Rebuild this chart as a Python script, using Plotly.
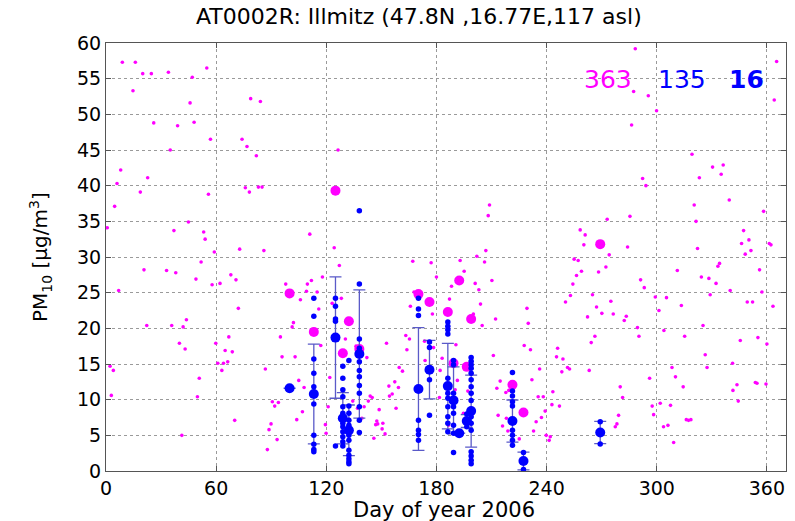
import plotly.graph_objects as go

# ---- daily PM10 (magenta small dots) ----
mag_days = [8.9,16,20,24.7,34,47,54.9,14.7,45.8,78.8,84.1,26,39,48,56.9,74.1,76.8,81.9,35,126.4,8,22.7,6,18.7,55.8,75.9,78.1,83,85,4.7,44.9,0.7,37,53.2,54,111,59,72.8,86,124.3,
            20.7,33,38,49,6.9,57.8,62.1,68,70.8,51.8,22.2,35.8,42,43.8,72.1,66.9,95,101.4,102.1,97.9,105.9,109.7,111.9,109.2,115,115.9,117.9,127.1,128.2,123.2,130.4,
            2.2,4,2.9,40,43.1,41.3,50.8,49.8,59.8,60.9,64,66.3,63.1,64.9,68.8,70.1,86.8,90.6,91.9,93.9,89.9,88.8,93.2,87.9,95.9,103,105,107.9,103.9,107,117,119.5,119.9,121.9,121,136.2,142.1,134.4,137,139.4,140.6,143.9,145,142.9,145.9,147.5,146.9,148.8,
            152.8,159.7,154.1,155.9,154.4,157.3,159.3,158,148,150.8,150.4,152,
            294.1,208.9,208.2,273,285.4,258.3,261,260.3,274.1,284.1,206.9,202,206.2,192.9,167.1,177.1,255,257.2,195.1,180,259,256.3,268.3,272.3,291.2,293.2,210.2,201.1,188.2,203.1,254.3,253,265,299.2,305.3,167.8,187.1,204,165.8,177.8,229.3,230,212.2,204.9,250.3,267.2,275,270.1,276.3,283.4,262.3,282.3,301.2,303.9,289.5,290.3,266.3,163.3,200.1,
            165.3,173.5,173.8,163.9,161.5,178.4,183.1,182,181.6,190.6,191.4,197.1,190.2,194.7,186.5,211,214.7,212.9,217.8,219.4,213.6,218.1,216,218.9,225.1,227.8,231.2,232,236.2,235.4,238.2,234.3,237.2,232.9,239.8,242,241.4,243.4,245.4,246,248.9,248.3,251.4,252.5,242.9,247,263.2,264.3,280.1,281.4,279.2,278.3,277.4,296.1,297.5,298.3,301.9,303.7,306.1,309.2,307.5,308.3,310.2,314.4,315.2,316.1,317.3,318.6,326.4,327.4,341.3,343.7,341.5,344.4,345.5,355.1,353.7,354.6,359.5,360,
            320.4,339.5,358.2,321.4,322.2,347.3,350.2,346.2,351.3,348.2,361.3,362.2,311.2,324.3,328.4,334.2,333.3,332.3,356,340,357.3,329.1,349.3,352.2,363.3,313.4,325.2,239.2,
            365.3,364,295.4,299.9,319.2,330.4,336.2,335.1,323.2,292.3,288.3,287.4,286.3]
mag_vals = [57.3,57.3,55.7,55.7,55.9,55.2,56.5,53.3,51.6,52.2,51.8,48.8,48.4,48.9,46.5,46.5,45.5,44.2,45.0,45.0,42.2,41.1,40.3,39.1,38.8,39.7,39.1,39.8,39.8,37.1,34.9,34.1,33.7,33.5,32.5,33.2,30.7,31.1,30.9,31.3,
            28.2,28.1,27.8,26.9,25.3,26.1,26.3,27.5,26.8,29.3,20.4,20.4,20.2,21.2,22.8,18.8,18.8,20.2,20.8,26.2,24.0,26.2,26.7,25.2,25.1,22.7,27.2,28.8,24.2,23.5,18.5,
            14.7,14.1,10.6,17.9,17.1,5.0,13.0,10.4,17.9,15.1,15.1,15.3,14.1,16.9,16.7,7.1,14.3,9.7,9.1,9.6,6.6,5.8,4.4,3.0,16.0,16.0,12.7,11.7,7.2,8.3,17.6,6.5,5.3,13.1,9.0,17.5,15.9,9.8,8.8,7.4,9.0,10.5,10.3,9.8,4.6,7.0,6.5,8.6,
            17.9,14.5,11.9,10.8,10.5,12.5,11.7,8.8,6.6,6.7,5.9,5.2,
            40.0,37.3,35.8,35.3,35.7,33.8,33.1,31.7,30.3,31.4,30.9,30.1,29.3,29.5,29.4,29.2,29.7,29.5,28.0,27.2,28.0,27.4,27.9,28.6,26.8,25.7,26.7,26.3,25.9,25.4,26.2,24.6,24.7,24.4,24.3,25.1,24.1,23.4,23.1,22.0,22.8,20.7,21.3,20.4,23.7,23.0,23.8,22.1,22.0,21.7,21.6,21.1,22.5,19.7,20.1,18.9,18.9,19.0,22.0,
            18.5,18.2,15.5,17.0,14.0,17.3,15.8,14.1,10.3,17.7,12.7,11.2,11.4,8.1,6.4,16.2,12.6,11.6,11.0,11.3,7.8,7.4,6.3,5.6,4.5,17.6,17.0,12.8,14.3,10.4,10.4,6.9,7.5,5.6,5.0,4.8,4.3,11.1,16.0,17.2,15.7,13.9,14.5,14.3,9.3,9.1,14.1,18.0,11.8,10.3,7.8,6.6,6.2,13.0,9.1,7.9,9.5,6.2,6.4,4.0,9.2,14.5,13.2,11.8,18.9,7.2,7.1,7.2,16.3,14.5,15.1,12.1,11.3,9.8,18.3,18.7,12.4,12.3,12.2,17.8,
            37.3,38.0,36.4,35.0,31.2,33.7,32.4,31.9,30.9,30.4,31.9,31.7,28.1,27.2,27.0,29.1,28.7,26.3,28.2,25.3,25.1,24.7,23.7,23.7,23.1,23.2,20.4,8.4,
            57.4,52.0,52.6,50.5,44.4,42.6,42.9,41.6,41.1,41.0,59.2,53.2,48.5]

# ---- individual samples (blue small dots), grouped by sampling period ----
blue_groups = {
    100.0: [11.6],
    113.2: [24.2, 21.7, 15.7, 13.7, 11.8, 9.4, 5.0, 3.75, 3.0, 2.7],
    125.0: [24.2, 23.1, 21.3, 21.0, 3.5],
    129.0: [14.7, 13.0, 11.4, 10.4, 9.0, 8.1, 6.7, 6.2, 5.5, 4.8, 4.1, 3.5],
    132.3: [15.5, 9.1, 8.1, 7.1, 6.4, 5.0, 4.3, 2.9, 2.2, 1.7, 1.3, 1.0],
    138.0: [36.5, 26.2, 18.5, 17.2, 15.3, 14.1, 13.2, 12.0, 10.9, 9.0, 7.1, 5.4],
    170.2: [24.2, 22.7, 21.8, 7.1, 5.7, 5.1, 4.3],
    176.2: [18.1, 17.3, 12.8, 7.8],
    186.2: [20.9, 20.3, 19.8, 19.2, 13.0, 10.9, 10.2, 9.0, 7.6, 6.7, 5.5],
    189.3: [15.5, 14.9, 10.9, 9.0, 8.1, 6.4, 5.3, 2.6],
    192.4: [5.3],
    196.5: [8.0, 7.0, 6.2],
    198.9: [15.9, 15.4, 14.9, 14.4, 13.7, 12.8, 11.8, 10.9, 9.9, 7.6, 6.7, 5.7, 2.7, 2.1, 1.5, 1.0],
    221.4: [13.8, 11.2, 10.5, 9.7, 9.1, 5.7, 5.0, 4.3, 3.6],
    227.4: [2.6, 0.2],
    269.2: [6.9, 3.8],
}

# ---- period means (big blue) with spread, and matching daily means (big magenta) ----
per_days  = [100.0, 113.2, 125.0, 129.0, 132.3, 138.0, 170.2, 176.2, 186.2, 189.3, 192.4, 196.5, 198.9, 221.4, 227.4, 269.2]
per_mean  = [11.6, 10.8, 18.7, 7.4, 5.7, 16.4, 11.5, 14.2, 11.9, 9.9, 5.3, 7.0, 8.4, 7.0, 1.4, 5.4]
per_sd    = [0.0, 7.0, 8.5, 3.6, 3.55, 9.0, 8.6, 4.1, 6.0, 4.7, 0.0, 0.9, 5.05, 2.95, 1.25, 1.55]
mag_mean  = [24.9, 19.5, 39.3, 16.5, 21.0, 17.1, 24.8, 23.7, 22.3, 15.1, 26.7, 14.6, 21.3, 12.1, 8.2, 31.8]

counts = ["363", "135", "16"]

bd, bv = [], []
for d, vals in blue_groups.items():
    bd += [d] * len(vals)
    bv += vals

fig = go.Figure()
fig.add_trace(go.Scatter(x=mag_days, y=mag_vals, mode="markers",
                         marker=dict(color="#ff00ff", size=3.6), showlegend=False))
fig.add_trace(go.Scatter(x=per_days, y=mag_mean, mode="markers",
                         marker=dict(color="#ff00ff", size=10), showlegend=False))
fig.add_trace(go.Scatter(x=per_days, y=per_mean, mode="markers",
                         error_y=dict(type="data", array=per_sd, color="#5a5ac8", thickness=1.3, width=6),
                         marker=dict(color="rgba(0,0,0,0)", size=1), showlegend=False))
fig.add_trace(go.Scatter(x=bd, y=bv, mode="markers",
                         marker=dict(color="#0000ff", size=5.5), showlegend=False))
fig.add_trace(go.Scatter(x=per_days, y=per_mean, mode="markers",
                         marker=dict(color="#0000ff", size=10), showlegend=False))

FONT = "DejaVu Sans"
axis_common = dict(showgrid=True, griddash="dot", gridcolor="#9a9a9a", gridwidth=1,
                   showline=True, linecolor="#555555", linewidth=1, mirror="ticks",
                   ticks="inside", ticklen=5, tickcolor="#555555", zeroline=False,
                   tickfont=dict(family=FONT, size=19, color="#000"))
fig.update_layout(
    width=795, height=521, margin=dict(l=106, r=9, t=43, b=50),
    plot_bgcolor="white", paper_bgcolor="white",
    xaxis=dict(range=[0, 370.4], tickvals=[0, 60, 120, 180, 240, 300, 360], **axis_common),
    yaxis=dict(range=[0, 60], tickvals=list(range(0, 61, 5)), **axis_common),
)
fig.add_annotation(text="AT0002R: Illmitz (47.8N ,16.77E,117 asl)", xref="paper", yref="paper",
                   x=(419 - 106) / 680, y=1 + (43 - 17) / 428, showarrow=False,
                   font=dict(family=FONT, size=22, color="#000"), xanchor="center", yanchor="middle")
fig.add_annotation(text="Day of year 2006", xref="paper", yref="paper",
                   x=(444 - 106) / 680, y=-(510 - 471) / 428, showarrow=False,
                   font=dict(family=FONT, size=21, color="#000"), xanchor="center", yanchor="middle")
fig.add_annotation(text="PM<sub>10</sub> [µg/m<sup>3</sup>]", xref="paper", yref="paper",
                   x=-(106 - 40) / 680, y=0.5, showarrow=False, textangle=-90,
                   font=dict(family=FONT, size=20, color="#000"), xanchor="center", yanchor="middle")
for txt, xx, col, bold in zip(counts, [273.6, 313.7, 348.9], ["#ff00ff", "#0000ff", "#0000ff"], [False, False, True]):
    fig.add_annotation(text=f"<b>{txt}</b>" if bold else txt, x=xx, y=54.9, showarrow=False,
                       font=dict(family=FONT, size=25, color=col), xanchor="center", yanchor="middle")

fig.write_html("out.html")
